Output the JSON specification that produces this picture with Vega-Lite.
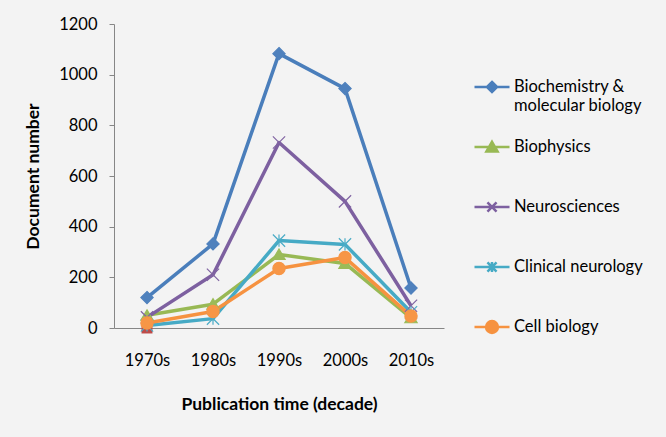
{
  "$schema": "https://vega.github.io/schema/vega-lite/v6.json",
  "width": 330,
  "height": 304,
  "autosize": {"type": "none"},
  "padding": {"left": 114, "top": 24, "right": 222, "bottom": 109},
  "background": "#f3f3f3",
  "config": {
    "view": {"stroke": null},
    "font": "Lato",
    "axis": {"labelFont": "Lato", "titleFont": "Lato", "labelColor": "#000000", "titleColor": "#000000", "domainColor": "#868686", "tickColor": "#868686", "labelFontSize": 16.5, "titleFontSize": 17.5, "titleFontWeight": "bold", "grid": false}
  },
  "datasets": {
    "main": [
      {"decade": "1970s", "series": "Biochemistry & molecular biology", "value": 120},
      {"decade": "1980s", "series": "Biochemistry & molecular biology", "value": 332},
      {"decade": "1990s", "series": "Biochemistry & molecular biology", "value": 1083},
      {"decade": "2000s", "series": "Biochemistry & molecular biology", "value": 945},
      {"decade": "2010s", "series": "Biochemistry & molecular biology", "value": 158},
      {"decade": "1970s", "series": "Biophysics", "value": 50},
      {"decade": "1980s", "series": "Biophysics", "value": 94},
      {"decade": "1990s", "series": "Biophysics", "value": 290},
      {"decade": "2000s", "series": "Biophysics", "value": 255},
      {"decade": "2010s", "series": "Biophysics", "value": 40},
      {"decade": "1970s", "series": "Neurosciences", "value": 42},
      {"decade": "1980s", "series": "Neurosciences", "value": 210},
      {"decade": "1990s", "series": "Neurosciences", "value": 732},
      {"decade": "2000s", "series": "Neurosciences", "value": 500},
      {"decade": "2010s", "series": "Neurosciences", "value": 88},
      {"decade": "1970s", "series": "Clinical neurology", "value": 10},
      {"decade": "1980s", "series": "Clinical neurology", "value": 37},
      {"decade": "1990s", "series": "Clinical neurology", "value": 345},
      {"decade": "2000s", "series": "Clinical neurology", "value": 330},
      {"decade": "2010s", "series": "Clinical neurology", "value": 62},
      {"decade": "1970s", "series": "Cell biology", "value": 20},
      {"decade": "1980s", "series": "Cell biology", "value": 65},
      {"decade": "1990s", "series": "Cell biology", "value": 235},
      {"decade": "2000s", "series": "Cell biology", "value": 278},
      {"decade": "2010s", "series": "Cell biology", "value": 47}
    ],
    "extra": [
      {"decade": "1970s", "series": "Series 2", "value": 0}
    ]
  },
  "data": {"name": "main"},
  "encoding": {
    "x": {
      "field": "decade", "type": "ordinal",
      "scale": {"type": "point", "padding": 0.5, "domain": ["1970s", "1980s", "1990s", "2000s", "2010s"]},
      "axis": {"title": "Publication time (decade)", "labelAngle": 0, "ticks": false, "labelPadding": 24, "titlePadding": 27}
    },
    "y": {
      "field": "value", "type": "quantitative",
      "scale": {"domain": [0, 1200], "nice": false},
      "axis": {"title": "Document number", "format": "d", "values": [0, 200, 400, 600, 800, 1000, 1200], "tickSize": 5, "labelPadding": 12, "titlePadding": 16}
    }
  },
  "layer": [
    {
      "data": {"name": "extra"},
      "mark": {"type": "point", "shape": "square", "filled": true, "size": 120, "color": "#BE4B48", "opacity": 1}
    },
    {
      "mark": {"type": "line", "strokeWidth": 3.5, "strokeJoin": "round"},
      "encoding": {
        "color": {
          "field": "series", "type": "nominal",
          "scale": {"domain": ["Biochemistry & molecular biology", "Biophysics", "Neurosciences", "Clinical neurology", "Cell biology"], "range": ["#4A7EBB", "#98B954", "#7D60A0", "#46AAC5", "#F69240"]},
          "legend": null
        }
      }
    },
    {
      "mark": {"type": "point", "filled": true, "opacity": 1, "strokeWidth": 1.2, "size": 150},
      "encoding": {
        "color": {
          "field": "series", "type": "nominal",
          "scale": {"domain": ["Biochemistry & molecular biology", "Biophysics", "Neurosciences", "Clinical neurology", "Cell biology"], "range": ["#4F81BD", "#9BBB59", "#8064A2", "#4BACC6", "#F79646"]},
          "legend": null
        },
        "stroke": {
          "field": "series", "type": "nominal",
          "scale": {"domain": ["Biochemistry & molecular biology", "Biophysics", "Neurosciences", "Clinical neurology", "Cell biology"], "range": ["#4F81BD", "#9BBB59", "#8064A2", "#4BACC6", "#F79646"]},
          "legend": null
        },
        "shape": {
          "field": "series", "type": "nominal",
          "scale": {"domain": ["Biochemistry & molecular biology", "Biophysics", "Neurosciences", "Clinical neurology", "Cell biology"], "range": ["M0,-1L1,0L0,1L-1,0Z", "M0,-0.9L1,0.8L-1,0.8Z", "M-1,-1L1,1M-1,1L1,-1", "M-1,-1L1,1M-1,1L1,-1M0,-1L0,1", "M1,0A1,1,0,1,1,-1,0A1,1,0,1,1,1,0Z"]},
          "legend": null
        }
      }
    },
    {
      "transform": [{"filter": "datum.value < 0"}],
      "mark": {"type": "point", "filled": true, "opacity": 1, "strokeWidth": 2.5, "size": 1225},
      "encoding": {
        "color": {
          "field": "series", "type": "nominal",
          "scale": {"domain": ["Biochemistry & molecular biology", "Biophysics", "Neurosciences", "Clinical neurology", "Cell biology"], "range": ["#4A7EBB", "#98B954", "#7D60A0", "#46AAC5", "#F69240"]},
          "legend": {"title": null, "orient": "none", "legendX": 359, "legendY": 44, "padding": 0, "symbolSize": 1225, "symbolStrokeWidth": 2.5, "rowPadding": 8, "labelOffset": 3, "labelFontSize": 16.5, "labelFont": "Lato", "labelColor": "#000000", "labelLimit": 200, "labelExpr": "datum.label == 'Biochemistry & molecular biology' ? ['Biochemistry &', 'molecular biology'] : datum.label"}
        },
        "stroke": {
          "field": "series", "type": "nominal",
          "scale": {"domain": ["Biochemistry & molecular biology", "Biophysics", "Neurosciences", "Clinical neurology", "Cell biology"], "range": ["#4A7EBB", "#98B954", "#7D60A0", "#46AAC5", "#F69240"]},
          "legend": {"title": null, "orient": "none", "legendX": 359, "legendY": 44, "padding": 0, "symbolSize": 1225, "symbolStrokeWidth": 2.5, "rowPadding": 8, "labelOffset": 3, "labelFontSize": 16.5, "labelFont": "Lato", "labelColor": "#000000", "labelLimit": 200, "labelExpr": "datum.label == 'Biochemistry & molecular biology' ? ['Biochemistry &', 'molecular biology'] : datum.label"}
        },
        "shape": {
          "field": "series", "type": "nominal",
          "scale": {"domain": ["Biochemistry & molecular biology", "Biophysics", "Neurosciences", "Clinical neurology", "Cell biology"], "range": ["M0,-0.6M0,1.6M-1,0L1,0M0,-0.29L0.29,0L0,0.29L-0.29,0Z", "M0,-0.6M0,1.6M-1,0L1,0M0,-0.3L0.32,0.26L-0.32,0.26Z", "M0,-0.6M0,1.6M-1,0L1,0M-0.26,-0.26L0.26,0.26M-0.26,0.26L0.26,-0.26", "M0,-0.6M0,1.6M-1,0L1,0M-0.26,-0.26L0.26,0.26M-0.26,0.26L0.26,-0.26M0,-0.28L0,0.28", "M0,-0.6M0,1.6M-1,0L1,0M0.34,0A0.34,0.34,0,1,1,-0.34,0A0.34,0.34,0,1,1,0.34,0Z"]},
          "legend": {"title": null, "orient": "none", "legendX": 359, "legendY": 44, "padding": 0, "symbolSize": 1225, "symbolStrokeWidth": 2.5, "rowPadding": 8, "labelOffset": 3, "labelFontSize": 16.5, "labelFont": "Lato", "labelColor": "#000000", "labelLimit": 200, "labelExpr": "datum.label == 'Biochemistry & molecular biology' ? ['Biochemistry &', 'molecular biology'] : datum.label"}
        }
      }
    }
  ],
  "resolve": {
    "scale": {"color": "independent", "stroke": "independent", "shape": "independent"},
    "legend": {"color": "independent", "stroke": "independent", "shape": "independent"}
  }
}
